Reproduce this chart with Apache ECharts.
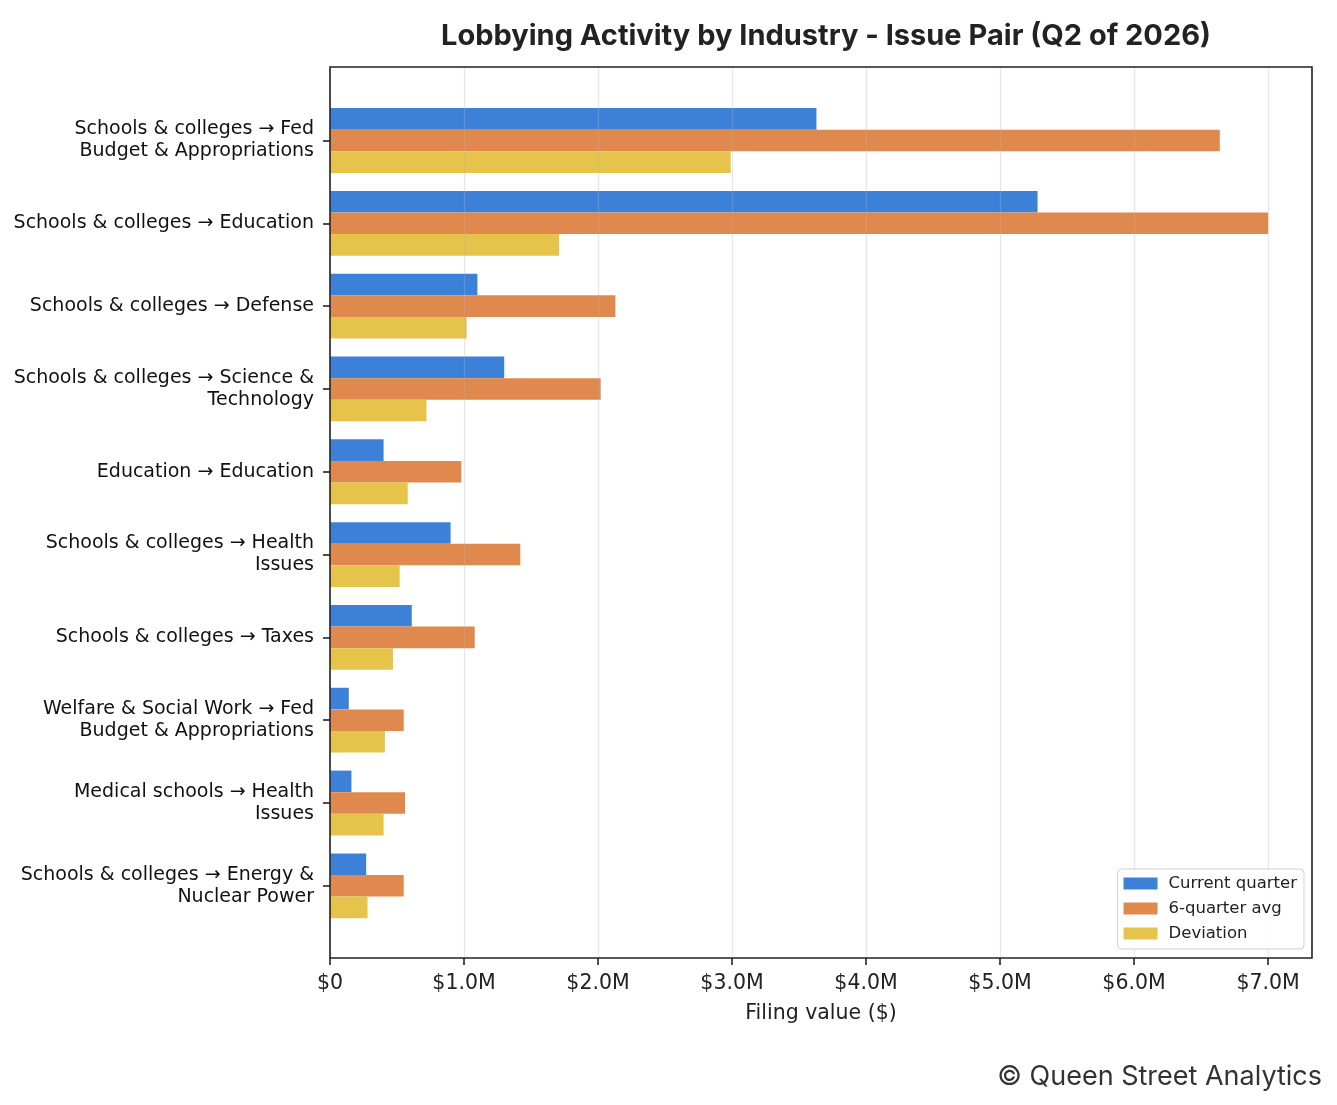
<!DOCTYPE html>
<html>
<head>
<meta charset="utf-8">
<title>Lobbying Activity by Industry - Issue Pair</title>
<script src="https://cdn.jsdelivr.net/npm/echarts@6/dist/echarts.min.js"></script>
<style>
    html, body { margin: 0; padding: 0; background: #fff; }
    #chart { width: 1337px; height: 1105px; }
</style>
</head>
<body>
<div id="chart"></div>
<script>
// 数据
var pairs = [
    "Schools & colleges → Fed\nBudget & Appropriations",
    "Schools & colleges → Education",
    "Schools & colleges → Defense",
    "Schools & colleges → Science &\nTechnology",
    "Education → Education",
    "Schools & colleges → Health\nIssues",
    "Schools & colleges → Taxes",
    "Welfare & Social Work → Fed\nBudget & Appropriations",
    "Medical schools → Health\nIssues",
    "Schools & colleges → Energy &\nNuclear Power"
];
var currentQuarter = [3630000, 5280000, 1100000, 1300000, 400000, 900000, 610000, 140000, 160000, 270000];
var sixQuarterAvg = [6640000, 7000000, 2130000, 2020000, 980000, 1420000, 1080000, 550000, 560000, 550000];
var deviation = [2990000, 1710000, 1020000, 720000, 580000, 520000, 470000, 410000, 400000, 280000];
var xTicks = [0, 1000000, 2000000, 3000000, 4000000, 5000000, 6000000, 7000000];
var xMax = 7328000;

(function () {
    var myChart = echarts.init(document.getElementById("chart"));

    function money(v) {
        return v === 0 ? "$0" : "$" + (v / 1e6).toFixed(1) + "M";
    }

    var option = {
        backgroundColor: "#fff",
        animation: false,
        title: [
            {
                text: "Lobbying Activity by Industry - Issue Pair (Q2 of 2026)",
                left: 821,
                textAlign: "center",
                top: 17,
                textStyle: {
                    fontFamily: "Inter",
                    fontWeight: "bold",
                    fontSize: 29,
                    color: "#222"
                }
            },
            {
                text: "© Queen Street Analytics",
                right: 10,
                top: 1058,
                textStyle: {
                    fontFamily: "Inter",
                    fontWeight: "normal",
                    fontSize: 27,
                    color: "#333"
                }
            }
        ],
        legend: {
            orient: "vertical",
            right: 33,
            top: 869,
            z: 10,
            icon: "rect",
            itemWidth: 34,
            itemHeight: 12,
            itemGap: 8,
            padding: [6, 7, 7, 6],
            backgroundColor: "rgba(255,255,255,0.85)",
            borderColor: "#d0d0d0",
            borderWidth: 1,
            borderRadius: 4,
            textStyle: {
                fontFamily: "DejaVu Sans",
                fontSize: 16.5,
                lineHeight: 17,
                color: "#222",
                padding: [0, 0, 0, 6]
            },
            data: ["Current quarter", "6-quarter avg", "Deviation"]
        },
        grid: [
            // 柱子区域
            { left: 330, right: 25, top: 99.1, height: 828.1 },
            // 外框 + 网格线
            {
                left: 330, right: 25, top: 67, bottom: 147,
                show: true,
                z: 5,
                borderColor: "#222",
                borderWidth: 1.6,
                backgroundColor: "transparent"
            }
        ],
        xAxis: [
            { gridIndex: 0, type: "value", min: 0, max: xMax, show: false },
            {
                gridIndex: 1,
                type: "value",
                min: 0,
                max: xMax,
                interval: 1000000,
                z: 4,
                name: "Filing value ($)",
                nameLocation: "middle",
                nameGap: 45,
                nameTextStyle: {
                    fontFamily: "DejaVu Sans",
                    fontSize: 20.5,
                    color: "#222"
                },
                axisLine: { show: false },
                axisTick: {
                    show: true,
                    length: 7,
                    customValues: xTicks,
                    lineStyle: { color: "#222", width: 1.6 }
                },
                axisLabel: {
                    customValues: xTicks,
                    margin: 15,
                    fontFamily: "DejaVu Sans",
                    fontSize: 20.5,
                    color: "#222",
                    formatter: money
                },
                splitLine: {
                    show: true,
                    lineStyle: { color: "rgba(176,176,176,0.32)", width: 1.3 }
                }
            }
        ],
        yAxis: [
            {
                gridIndex: 0,
                type: "category",
                inverse: true,
                data: pairs,
                axisLine: { show: false },
                axisTick: {
                    show: true,
                    alignWithLabel: true,
                    length: 7,
                    lineStyle: { color: "#222", width: 1.6 }
                },
                axisLabel: {
                    margin: 16,
                    fontFamily: "DejaVu Sans",
                    fontSize: 19,
                    lineHeight: 22,
                    padding: [5, 0, 0, 0],
                    color: "#111",
                    align: "right"
                }
            },
            { gridIndex: 1, type: "value", min: 0, max: 1, show: false }
        ],
        series: [
            {
                name: "Current quarter",
                type: "bar",
                xAxisIndex: 0,
                yAxisIndex: 0,
                data: currentQuarter,
                barWidth: 21.6,
                barGap: "0%",
                itemStyle: { color: "#3d80d7" }
            },
            {
                name: "6-quarter avg",
                type: "bar",
                xAxisIndex: 0,
                yAxisIndex: 0,
                data: sixQuarterAvg,
                barWidth: 21.6,
                barGap: "0%",
                itemStyle: { color: "#e0894f" }
            },
            {
                name: "Deviation",
                type: "bar",
                xAxisIndex: 0,
                yAxisIndex: 0,
                data: deviation,
                barWidth: 21.6,
                barGap: "0%",
                itemStyle: { color: "#e6c44c" }
            }
        ]
    };

    myChart.setOption(option);
    window.addEventListener("resize", function () {
        myChart.resize();
    });
})();
</script>
</body>
</html>
